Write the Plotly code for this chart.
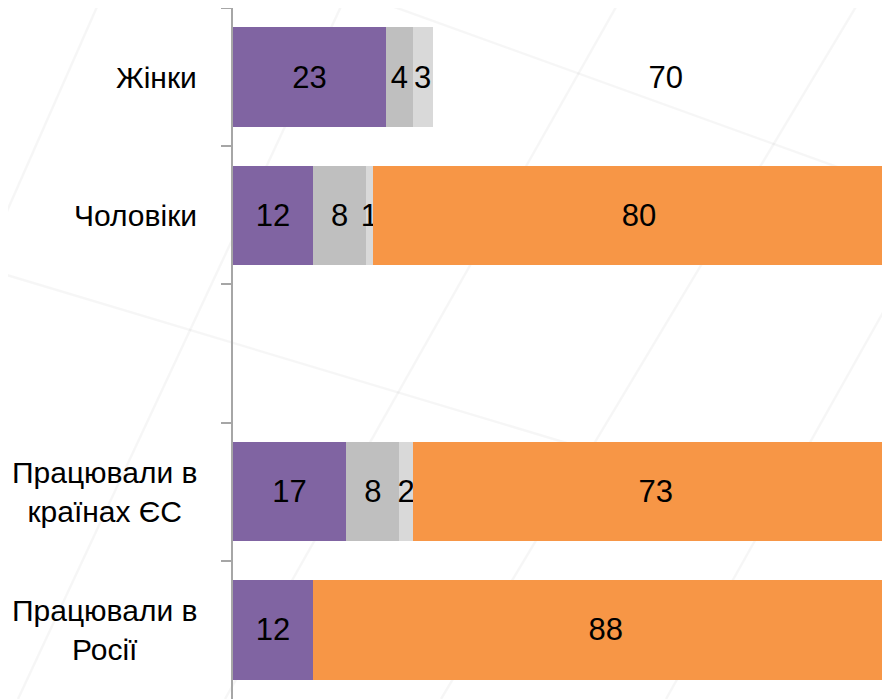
import plotly.graph_objects as go

categories = ["Жінки", "Чоловіки", " ", "Працювали в<br>країнах ЄС", "Працювали в<br>Росії"]
series_names = ["Серія 1", "Серія 2", "Серія 3", "Серія 4"]
s1 = [23, 12, None, 17, 12]
s2 = [4, 8, None, 8, None]
s3 = [3, 1, None, 2, None]
s4 = [70, 80, None, 73, 88]
colors = ["#8064A2", "#BFBFBF", "#D9D9D9", "#F79646"]
s4_colors = ["rgba(255,255,255,0)", "#F79646", "#F79646", "#F79646", "#F79646"]

FONT = "Liberation Sans, Arial, sans-serif"

# layout geometry (page pixels); the html body adds an 8px margin
PAGE_OFF = 8
PLOT_L, PLOT_R, PLOT_T, PLOT_B = 233, 890, 8, 699

# faint decorative background strokes (page pixel endpoints)
bg_strokes = [
    ((100, 0), (0, 227)),
    ((344, 0), (18, 699)),
    ((0, 273), (890, 540)),
    ((620, 0), (225, 699)),
    ((860, 0), (441, 699)),
    ((375, 0), (890, 186)),
    ((890, 300), (666, 699)),
]

fig = go.Figure()
for name, vals, col in zip(series_names, [s1, s2, s3, s4], colors):
    mcol = s4_colors if vals is s4 else col
    fig.add_trace(go.Bar(
        y=categories, x=vals, name=name, orientation="h",
        marker=dict(color=mcol, line=dict(width=0)),
        text=[("" if v is None else str(v)) for v in vals],
        textposition="inside", insidetextanchor="middle", textangle=0,
        textfont=dict(family=FONT, size=31, color="black"),
    ))

for c in categories:
    fig.add_annotation(
        x=0, xref="paper", y=c, yref="y", text=c, showarrow=False,
        xanchor="right", align="center", xshift=-34,
        font=dict(family=FONT, size=30, color="black"),
    )

def to_paper(px, py):
    return ((px - PLOT_L) / (PLOT_R - PLOT_L), 1 - (py - PLOT_T) / (PLOT_B - PLOT_T))

for (a, b) in bg_strokes:
    x0, y0 = to_paper(*a)
    x1, y1 = to_paper(*b)
    fig.add_shape(type="line", xref="paper", yref="paper", x0=x0, y0=y0, x1=x1, y1=y1,
                  line=dict(color="rgba(0,0,0,0.035)", width=2.5), layer="below")

fig.update_layout(
    barmode="stack", bargap=0.28, showlegend=False,
    width=PLOT_R - PAGE_OFF, height=PLOT_B - PAGE_OFF,
    margin=dict(l=PLOT_L - PAGE_OFF, r=0, t=PLOT_T - PAGE_OFF, b=0),
    paper_bgcolor="white", plot_bgcolor="rgba(0,0,0,0)",
    uniformtext=dict(minsize=31, mode="show"),
    font=dict(family=FONT),
)
fig.update_xaxes(range=[0, 98.7], visible=False, showgrid=False, zeroline=False)
fig.update_yaxes(
    range=[4.5, -0.5], showticklabels=False, showgrid=False, zeroline=False,
    showline=True, linecolor="#A6A6A6", linewidth=1.5,
    ticks="outside", tickson="boundaries", ticklen=10, tickcolor="#A6A6A6", tickwidth=1.5,
)

fig.write_html("out.html")
